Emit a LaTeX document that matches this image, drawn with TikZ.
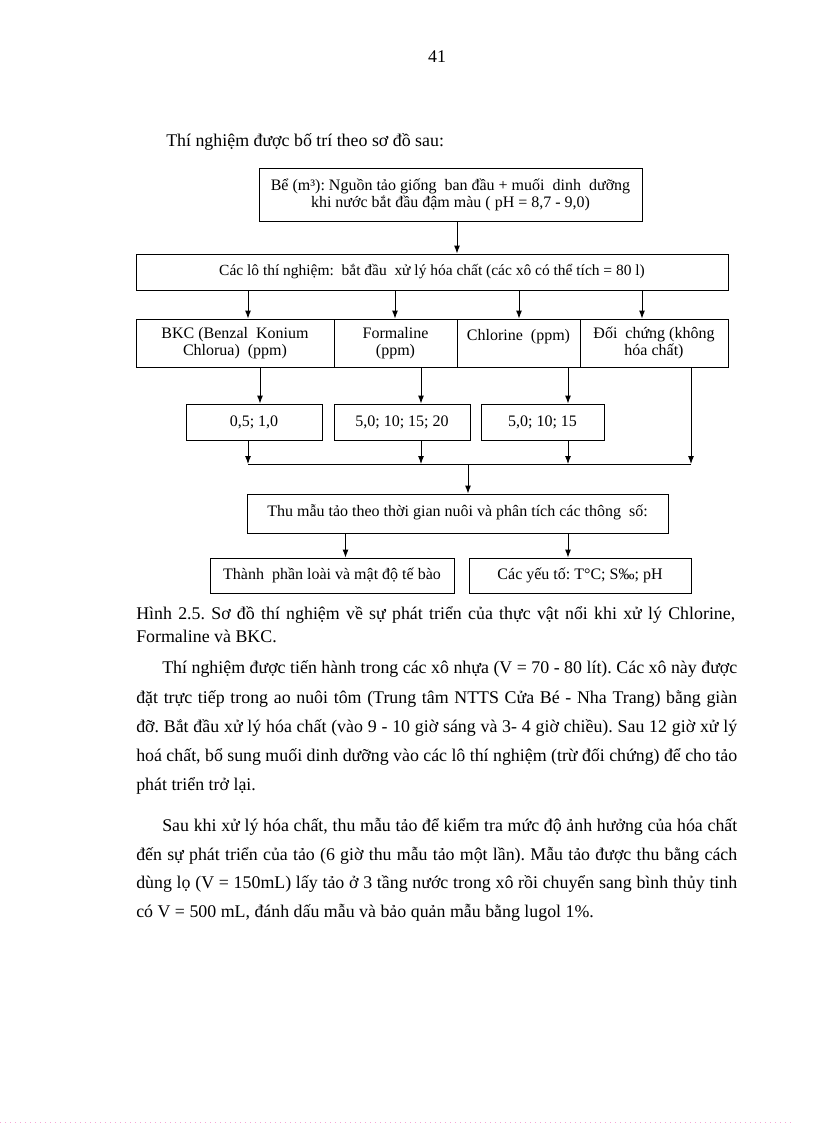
\documentclass[tikz,border=0pt]{standalone}
\usepackage{fontspec}
\setmainfont{Liberation Serif}
\usetikzlibrary{arrows.meta,calc}
\newlength{\pxu}\setlength{\pxu}{0.75pt}
\begin{document}
\frenchspacing
\begin{tikzpicture}[x=0.75pt,y=-0.75pt,
  box/.style={draw, line width=0.7pt, inner sep=0pt, align=center,
    font=\fontsize{12}{12.75}\selectfont\frenchspacing},
  arr/.style={-{Latex[length=6pt,width=4.5pt]}, line width=0.7pt},
  ln/.style={line width=0.7pt},
  body/.style={inner sep=0pt, anchor=base west, font=\fontsize{13.4}{16}\selectfont\frenchspacing}]
\useasboundingbox (0,0) rectangle (816,1123);

% page number and intro
\node[body, anchor=base] (pnum) at (437,63) {41};
\node[body] (intro) at (166,147) {Thí nghiệm được bố trí theo sơ đồ sau:};

% diagram boxes
\node[box, minimum width=383\pxu, minimum height=53\pxu] (top) at (450.5,194.5)
  {Bể (m³): Nguồn tảo giống \ ban đầu + muối \ dinh \ dưỡng\\khi nước bắt đầu đậm màu ( pH = 8,7 - 9,0)};
\node[box, minimum width=592\pxu, minimum height=36\pxu] (wide) at (432,272)
  {\fontsize{11.6}{12.75}\selectfont Các lô thí nghiệm: \ bắt đầu \ xử lý hóa chất (các xô có thể tích = 80 l)};

\node[box, minimum width=198\pxu, minimum height=48\pxu] (bkc) at (235,343)
  {BKC (Benzal \ Konium\\Chlorua) \ (ppm)};
\node[box, minimum width=123\pxu, minimum height=48\pxu] (form) at (395.5,343)
  {Formaline\\(ppm)};
\node[box, minimum width=123\pxu, minimum height=48\pxu] (chl) at (518.5,343)
  {Chlorine \ (ppm)\\~};
\node[box, minimum width=148\pxu, minimum height=48\pxu] (doi) at (654,343)
  {Đối \ chứng (không\\hóa chất)};

\node[box, minimum width=136\pxu, minimum height=36\pxu] (v1) at (254,422) {0,5; 1,0};
\node[box, minimum width=136\pxu, minimum height=36\pxu] (v2) at (402,422) {5,0; 10; 15; 20};
\node[box, minimum width=123\pxu, minimum height=36\pxu] (v3) at (542.5,422) {5,0; 10; 15};

\node[box, minimum width=421\pxu, minimum height=39\pxu, text depth=4pt] (thu) at (457.5,513.5)
  {Thu mẫu tảo theo thời gian nuôi và phân tích các thông \ số:};
\node[box, minimum width=244\pxu, minimum height=35\pxu] (tp) at (332,575.5)
  {Thành \ phần loài và mật độ tế bào};
\node[box, minimum width=222\pxu, minimum height=35\pxu] (yt) at (580,575.5)
  {Các yếu tố: T°C; S‰; pH};

% connector columns
\coordinate (ca) at (457,0);
\coordinate (w1) at (248,0);
\coordinate (w2) at (395,0);
\coordinate (w3) at (519,0);
\coordinate (w4) at (642,0);
\coordinate (r1) at (260,0);
\coordinate (r2) at (421,0);
\coordinate (r3) at (568,0);
\coordinate (r4) at (691,0);
\coordinate (bus) at (0,464);
\coordinate (bl) at (248,464);
\coordinate (br) at (691,464);
\coordinate (bc) at (468,464);
\coordinate (t1) at (345.5,0);
\coordinate (t2) at (568,0);

\draw[arr] (top.south -| ca) -- (wide.north -| ca);
\draw[arr] (wide.south -| w1) -- (bkc.north -| w1);
\draw[arr] (wide.south -| w2) -- (form.north -| w2);
\draw[arr] (wide.south -| w3) -- (chl.north -| w3);
\draw[arr] (wide.south -| w4) -- (doi.north -| w4);

\draw[arr] (bkc.south -| r1) -- (v1.north -| r1);
\draw[arr] (form.south -| r2) -- (v2.north -| r2);
\draw[arr] (chl.south -| r3) -- (v3.north -| r3);

\draw[arr] (v1.south -| w1) -- (bl);
\draw[arr] (v2.south -| r2) -- (bus -| r2);
\draw[arr] (v3.south -| r3) -- (bus -| r3);
\draw[arr] (doi.south -| r4) -- (br);
\draw[ln] (bl) -- (br);
\draw[arr] (bc) -- (thu.north -| bc);

\draw[arr] (thu.south -| t1) -- (tp.north -| t1);
\draw[arr] (thu.south -| t2) -- (yt.north -| t2);

% caption
\node[body] (cap1) at (136,619) {\makebox[599\pxu][s]{Hình 2.5. Sơ đồ thí nghiệm về sự phát triển của thực vật nổi khi xử lý Chlorine,}};
\node[body] (cap2) at (136,642) {Formaline và BKC.};

% paragraph 1
\node[body] (pa1) at (162,673) {\makebox[575\pxu][s]{Thí nghiệm được tiến hành trong các xô nhựa (V = 70 - 80 lít). Các xô này được}};
\node[body] (pa2) at (136,703) {\makebox[601\pxu][s]{đặt trực tiếp trong ao nuôi tôm (Trung tâm NTTS Cửa Bé - Nha Trang) bằng giàn}};
\node[body] (pa3) at (136,732) {\makebox[601\pxu][s]{đỡ. Bắt đầu xử lý hóa chất (vào 9 - 10 giờ sáng và 3- 4 giờ chiều). Sau 12 giờ xử lý}};
\node[body] (pa4) at (136,761) {\makebox[601\pxu][s]{hoá chất, bổ sung muối dinh dưỡng vào các lô thí nghiệm (trừ đối chứng) để cho tảo}};
\node[body] (pa5) at (136,790) {phát triển trở lại.};

% paragraph 2
\node[body] (pb1) at (162,831) {\makebox[575\pxu][s]{Sau khi xử lý hóa chất, thu mẫu tảo để kiểm tra mức độ ảnh hưởng của hóa chất}};
\node[body] (pb2) at (136,860) {\makebox[601\pxu][s]{đến sự phát triển của tảo (6 giờ thu mẫu tảo một lần). Mẫu tảo được thu bằng cách}};
\node[body] (pb3) at (136,888) {\makebox[601\pxu][s]{dùng lọ (V = 150mL) lấy tảo ở 3 tầng nước trong xô rồi chuyển sang bình thủy tinh}};
\node[body] (pb4) at (136,917) {có V = 500 mL, đánh dấu mẫu và bảo quản mẫu bằng lugol 1\%.};

% faint page edge
\draw[magenta!35, line width=0.75pt, dash pattern=on 0.75pt off 3pt] (0,1122) -- (792,1122);
\end{tikzpicture}
\end{document}
